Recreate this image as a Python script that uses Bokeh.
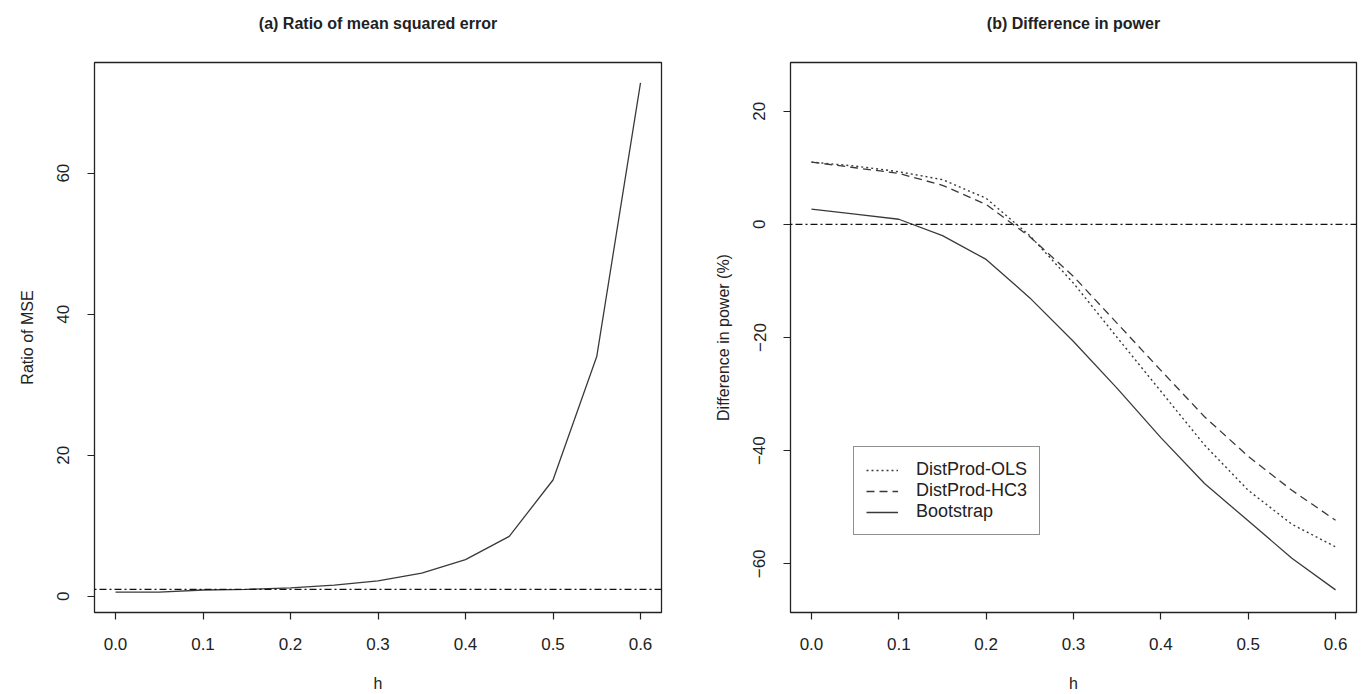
import math
from bokeh.plotting import figure
from bokeh.models import Range1d, Span, FixedTicker, Legend, LegendItem, NumeralTickFormatter, Title
from bokeh.layouts import row
from bokeh.embed import file_html
from bokeh.resources import INLINE

# ---- data ----
h = [0.0, 0.05, 0.1, 0.15, 0.2, 0.25, 0.3, 0.35, 0.4, 0.45, 0.5, 0.55, 0.6]
mse_ratio = [0.6, 0.6, 0.9, 1.0, 1.2, 1.6, 2.2, 3.3, 5.2, 8.5, 16.5, 34.0, 72.8]
ols = [11.0, 10.3, 9.3, 7.9, 4.6, -2.0, -10.4, -20.0, -29.5, -39.0, -47.0, -53.0, -57.0]
hc3 = [11.0, 10.0, 9.0, 6.9, 3.5, -2.2, -9.2, -17.5, -25.8, -34.0, -41.0, -47.0, -52.3]
boot = [2.7, 1.8, 0.9, -2.0, -6.2, -13.0, -20.7, -29.0, -37.7, -45.8, -52.4, -59.0, -64.6]
series_names = ["DistProd-OLS", "DistProd-HC3", "Bootstrap"]
x_ticks = [0.0, 0.1, 0.2, 0.3, 0.4, 0.5, 0.6]
left_y_ticks = [0, 20, 40, 60]
right_y_ticks = [-60, -40, -20, 0, 20]
left_ref = 1
right_ref = 0
right_ylim = [-65.0, 25.0]
titles = ["(a) Ratio of mean squared error", "(b) Difference in power"]

FONT = "Liberation Sans"
INK = "#222222"
LINE = "#3a3a3a"
FRAME_H = 550


def r_range(lo, hi):
    d = hi - lo
    return Range1d(lo - 0.04 * d, hi + 0.04 * d)


def style(p, xlabel, ylabel):
    p.outline_line_color = INK
    p.outline_line_width = 1.3
    p.xgrid.visible = False
    p.ygrid.visible = False
    p.background_fill_color = "white"
    p.border_fill_color = "white"
    # blank spacer panel between frame and title, so the title sits higher
    p.add_layout(Title(text=" ", text_font=FONT, text_font_size="16px", standoff=2), "above")
    p.title.align = "center"
    p.title.text_font = FONT
    p.title.text_font_size = "16px"
    p.title.text_font_style = "bold"
    p.title.text_color = INK
    p.title.standoff = 20
    p.xaxis.axis_label = xlabel
    p.yaxis.axis_label = ylabel
    for ax in (p.xaxis[0], p.yaxis[0]):
        ax.axis_line_color = None
        ax.major_tick_in = 0
        ax.major_tick_out = 7
        ax.major_tick_line_color = INK
        ax.major_tick_line_width = 1.2
        ax.minor_tick_line_color = None
        ax.major_label_text_font = FONT
        ax.major_label_text_font_size = "17px"
        ax.major_label_text_color = INK
        ax.axis_label_text_font = FONT
        ax.axis_label_text_font_size = "16px"
        ax.axis_label_text_font_style = "normal"
        ax.axis_label_text_color = INK
    p.xaxis.ticker = FixedTicker(ticks=x_ticks)
    p.xaxis.formatter = NumeralTickFormatter(format="0.0")
    p.xaxis.major_label_standoff = 18
    p.xaxis.axis_label_standoff = 22
    p.yaxis.major_label_orientation = "vertical"
    p.yaxis.major_label_standoff = 18
    p.yaxis.axis_label_standoff = 19


# ---- panel (a) ----
p1 = figure(frame_width=567, frame_height=FRAME_H, output_backend="svg", toolbar_location=None,
            title=titles[0],
            min_border_left=94, min_border_right=28, min_border_top=62, min_border_bottom=82,
            x_range=r_range(min(h), max(h)), y_range=r_range(min(mse_ratio), max(mse_ratio)))
style(p1, "h", "Ratio of MSE")
p1.yaxis.ticker = FixedTicker(ticks=left_y_ticks)
p1.line(h, mse_ratio, line_color=LINE, line_width=1.3)
p1.add_layout(Span(location=left_ref, dimension="width", line_color="#111111",
                   line_width=1.3, line_dash="2 3 7 3"))

# ---- panel (b) ----
p2 = figure(frame_width=566, frame_height=FRAME_H, output_backend="svg", toolbar_location=None,
            title=titles[1],
            min_border_left=101, min_border_right=4, min_border_top=62, min_border_bottom=82,
            x_range=r_range(min(h), max(h)), y_range=r_range(right_ylim[0], right_ylim[1]))
style(p2, "h", "Difference in power (%)")
p2.yaxis.ticker = FixedTicker(ticks=right_y_ticks)
p2.add_layout(Span(location=right_ref, dimension="width", line_color="#111111",
                   line_width=1.3, line_dash="2 3 7 3"))
r_ols = p2.line(h, ols, line_color=LINE, line_width=1.4, line_dash="2 3")
r_hc3 = p2.line(h, hc3, line_color=LINE, line_width=1.3, line_dash="8 5")
r_boot = p2.line(h, boot, line_color=LINE, line_width=1.3)

legend = Legend(items=[LegendItem(label=series_names[0], renderers=[r_ols]),
                       LegendItem(label=series_names[1], renderers=[r_hc3]),
                       LegendItem(label=series_names[2], renderers=[r_boot])],
                location=(63, 77))
legend.border_line_color = INK
legend.border_line_width = 1.5
legend.background_fill_alpha = 1.0
legend.label_text_font = FONT
legend.label_text_font_size = "18px"
legend.label_text_color = INK
legend.glyph_width = 32
legend.glyph_height = 18
legend.label_height = 20
legend.label_standoff = 18
legend.spacing = 0
legend.padding = 12
legend.margin = 0
p2.add_layout(legend)

layout = row(p1, p2)
open("out.html", "w").write(file_html(layout, INLINE))
